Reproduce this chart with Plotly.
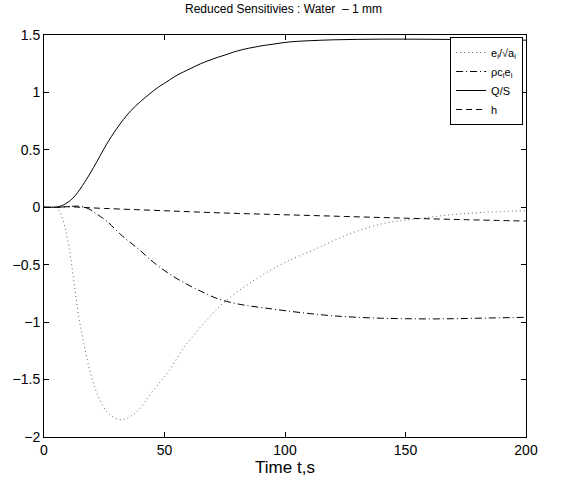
import plotly.graph_objects as go

# values
t_qs = [0, 4, 6, 8, 10, 12, 14, 16, 19, 22, 26, 30, 33, 36, 40, 44, 47, 50, 54, 58, 61, 65, 68,
        72, 75, 80, 85, 90, 95, 102, 110, 120, 130, 140, 150, 160, 170, 180, 190, 200]
qs = [0, 0, 0.005, 0.02, 0.045, 0.08, 0.13, 0.19, 0.29, 0.40, 0.55, 0.68, 0.765, 0.84, 0.92, 0.99,
      1.04, 1.08, 1.135, 1.18, 1.21, 1.25, 1.275, 1.305, 1.325, 1.36, 1.385, 1.405, 1.42, 1.44,
      1.45, 1.458, 1.462, 1.464, 1.464, 1.463, 1.461, 1.459, 1.457, 1.455]

t_ea = [0, 5, 6, 7, 8, 9, 10.5, 12.5, 14.4, 16.4, 19, 22, 26, 29, 32.5, 36, 39, 42, 45.5, 49,
        52, 55, 58.4, 62, 65, 68, 71.3, 76.5, 84, 91, 100, 113, 127, 141, 155, 169, 182, 200]
ea = [0, 0, -0.02, -0.06, -0.12, -0.2, -0.36, -0.66, -0.95, -1.17, -1.42, -1.62, -1.78, -1.83,
      -1.85, -1.82, -1.77, -1.69, -1.59, -1.50, -1.42, -1.32, -1.21, -1.12, -1.04, -0.97, -0.895,
      -0.795, -0.68, -0.585, -0.48, -0.36, -0.23, -0.14, -0.10, -0.065, -0.045, -0.03]

t_rc = [0, 5, 10, 14, 17, 20, 22, 26, 32.5, 39, 45.5, 52, 58.4, 65, 71.3, 77.8, 84, 91, 100,
        110, 120, 130, 140, 150, 160, 170, 180, 190, 200]
rc = [0, 0, 0.005, 0.01, 0.0, -0.03, -0.06, -0.12, -0.25, -0.36, -0.48, -0.58, -0.66, -0.73,
      -0.79, -0.83, -0.855, -0.875, -0.90, -0.925, -0.945, -0.958, -0.966, -0.97, -0.972,
      -0.97, -0.966, -0.962, -0.958]

t_h = [0, 5, 10, 15, 25, 50, 75, 100, 125, 150, 175, 200]
h = [0, 0, 0.005, 0.0, -0.01, -0.03, -0.05, -0.065, -0.08, -0.095, -0.108, -0.12]

FONT = "Liberation Sans, Arial, Helvetica, sans-serif"

fig = go.Figure()
series = [
    (t_ea, ea, "e<sub>l</sub>/√a<sub>l</sub>", "1px,3px", "#666"),
    (t_rc, rc, "ρc<sub>l</sub>e<sub>l</sub>", "7px,3px,1px,3px", "black"),
    (t_qs, qs, "Q/S", "solid", "black"),
    (t_h, h, "h", "6px,4px", "black"),
]
for tt, yy, name, dash, col in series:
    fig.add_trace(go.Scatter(x=tt, y=yy, name=name, mode="lines",
                             line=dict(color=col, width=1, dash=dash, shape="spline", smoothing=1)))

axis = dict(showgrid=False, zeroline=False, showline=True, linecolor="black", linewidth=1,
            mirror="allticks", ticks="inside", ticklen=5, tickcolor="black", automargin=False,
            tickfont=dict(family=FONT, size=14, color="black"))
fig.update_layout(
    width=567, height=488,
    paper_bgcolor="white", plot_bgcolor="white",
    margin=dict(l=44, r=41, t=35, b=51),
    title=dict(text="Reduced Sensitivies : Water  – 1 mm", x=0.5, xanchor="center",
               y=0.99, yanchor="top", font=dict(family=FONT, size=12, color="black")),
    xaxis=dict(axis, range=[0, 200], tickvals=[0, 50, 100, 150, 200],
               title=dict(text="Time t,s", font=dict(family=FONT, size=17, color="black"), standoff=4)),
    yaxis=dict(axis, range=[-2, 1.5], tickvals=[-2, -1.5, -1, -0.5, 0, 0.5, 1, 1.5],
               ticktext=["−2", "−1.5", "−1", "−0.5", "0", "0.5", "1", "1.5"]),
    legend=dict(x=0.994, xanchor="right", y=0.995, yanchor="top", bgcolor="white",
                bordercolor="black", borderwidth=1, tracegroupgap=0,
                font=dict(family=FONT, size=11, color="black")),
    showlegend=True,
)

# drop the browser's default 8px body margin so the figure sits at the page corner
fig.write_html("out.html", config={"displayModeBar": False},
               post_script="document.body.style.margin='0';")
